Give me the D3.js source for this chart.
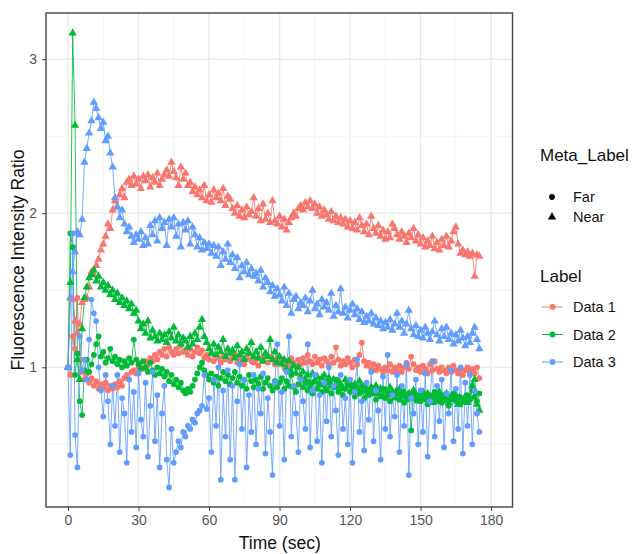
<!DOCTYPE html>
<html>
<head>
<meta charset="utf-8">
<script src="https://cdn.jsdelivr.net/npm/d3@7"></script>
<style>
  body { margin: 0; background: #fff; }
  svg { display: block; font-family: "Liberation Sans", Arial, sans-serif; }
</style>
</head>
<body>
<div id="chart"></div>
<script>
// time axis: one reading per second, 0..175
var times = d3.range(0, 176);

var labels = ["Data 1", "Data 2", "Data 3"];
var metaLabels = ["Far", "Near"];
var colors = ["#F8766D", "#00BA38", "#619CFF"];

var xTicks = [0, 30, 60, 90, 120, 150, 180];
var yTicks = [1, 2, 3];

// Data 1
var data1Far = [
  1.00, 0.95, 1.20, 1.12, 1.45, 1.05, 0.97, 0.92, 0.96, 0.90,
  0.93, 0.88, 0.91, 0.86, 0.89, 0.87, 0.90, 0.85, 0.88, 0.86,
  0.89, 0.87, 0.91, 0.88, 0.93, 0.95, 0.92, 0.97, 0.98, 0.96,
  1.00, 1.03, 0.99, 1.04, 1.02, 1.06, 1.04, 1.08, 1.05, 1.10,
  1.08, 1.12, 1.07, 1.13, 1.10, 1.08, 1.12, 1.09, 1.14, 1.10,
  1.11, 1.08, 1.12, 1.07, 1.10, 1.13, 1.09, 1.11, 1.06, 1.08,
  1.05, 1.09, 1.04, 1.08, 1.06, 1.03, 1.07, 1.05, 1.10, 1.04,
  1.06, 1.08, 1.03, 1.07, 1.05, 1.02, 1.06, 1.09, 1.04, 1.03,
  1.05, 1.01, 1.06, 1.04, 1.08, 1.03, 1.07, 1.05, 1.02, 1.06,
  1.03, 1.05, 1.00, 1.04, 1.02, 1.06, 1.03, 1.01, 1.05, 1.02,
  1.06, 1.03, 1.08, 1.04, 1.02, 1.07, 1.03, 1.05, 1.01, 1.06,
  1.04, 1.02, 1.07, 1.03, 1.13, 1.05, 1.01, 1.04, 1.02, 1.06,
  1.03, 1.00, 1.05, 1.02, 1.08, 1.16, 1.04, 1.01, 1.03, 0.99,
  1.02, 0.98, 1.01, 0.99, 0.97, 1.00, 0.98, 1.02, 0.97, 1.00,
  0.98, 1.01, 0.97, 1.00, 1.03, 0.99, 1.07, 1.02, 0.98, 1.00,
  0.97, 1.01, 0.99, 0.96, 1.02, 0.98, 1.04, 0.99, 0.97, 1.00,
  0.98, 0.96, 1.00, 0.97, 1.01, 0.98, 0.96, 0.99, 0.95, 0.98,
  1.00, 0.97, 0.99, 0.96, 1.00, 0.93
];
var data1Near = [
  1.00, 1.45, 1.44, 1.30, 1.22, 1.28, 1.42, 1.44, 1.45, 1.52,
  1.62, 1.60, 1.66, 1.70, 1.76, 1.80, 1.85, 1.93, 1.90, 2.02,
  2.08, 2.04, 2.12, 2.16, 2.10, 2.20, 2.22, 2.18, 2.24, 2.19,
  2.22, 2.16, 2.24, 2.21, 2.25, 2.17, 2.23, 2.20, 2.26, 2.18,
  2.22, 2.25, 2.28, 2.24, 2.33, 2.27, 2.23, 2.18, 2.30, 2.22,
  2.26, 2.18, 2.20, 2.14, 2.17, 2.12, 2.15, 2.10, 2.18, 2.08,
  2.12, 2.07, 2.15, 2.10, 2.13, 2.08, 2.16, 2.05, 2.11, 2.09,
  2.03, 2.00, 2.05, 1.98, 2.02, 1.97, 2.04, 1.99, 2.01, 2.10,
  1.98, 2.03, 1.95, 2.06, 1.96, 2.00, 1.94, 2.08, 1.95, 1.93,
  1.98, 1.91, 1.96, 1.89, 1.94, 1.97, 2.00, 1.98, 2.03, 2.05,
  2.02, 2.07, 2.04, 2.08, 2.03, 2.06, 2.00, 2.04, 1.98, 2.02,
  1.99, 1.96, 2.01, 1.95, 1.98, 1.94, 1.97, 1.93, 1.96, 1.91,
  1.95, 1.90, 1.94, 1.89, 1.97, 1.92, 1.88, 1.93, 1.86, 1.98,
  1.90, 1.87, 1.92, 1.85, 1.89, 1.83, 1.88, 1.84, 1.93, 1.90,
  1.86, 1.83, 1.88, 1.85, 1.81, 1.87, 1.84, 1.90, 1.82, 1.86,
  1.80, 1.84, 1.78, 1.82, 1.79, 1.85, 1.77, 1.81, 1.76, 1.83,
  1.79, 1.85, 1.78, 1.82, 1.88, 1.91, 1.80, 1.74, 1.76, 1.73,
  1.75, 1.72, 1.74, 1.59, 1.73, 1.72
];

// Data 2
var data2Far = [
  1.00, 1.87, 1.78, 0.95, 1.09, 0.78, 0.69, 0.98, 1.05, 0.97,
  1.02, 1.08, 1.15, 1.20, 1.07, 1.10, 1.03, 1.06, 1.12, 1.04,
  1.07, 1.02, 1.05, 1.00, 1.04, 1.01, 1.06, 1.03, 1.18, 1.05,
  1.02, 0.99, 1.04, 1.00, 0.97, 1.03, 0.98, 0.95, 1.00, 0.96,
  0.99, 0.94, 0.97, 0.91, 0.95, 0.89, 0.92, 0.87, 0.90, 0.85,
  0.83, 0.86, 0.84, 0.88, 0.92, 0.96, 1.00, 1.03, 0.98, 0.95,
  0.92, 0.96, 0.90, 0.94, 0.88, 0.93, 0.97, 0.91, 0.95, 0.89,
  0.93, 0.97, 0.90, 0.94, 0.88, 0.92, 0.86, 0.95, 0.91, 0.87,
  0.92, 0.89, 0.94, 0.86, 0.90, 0.93, 0.88, 0.85, 0.91, 0.87,
  0.90, 0.93, 0.86, 0.91, 0.88, 0.95, 0.87, 0.84, 0.89, 0.92,
  0.87, 0.90, 0.85, 0.88, 0.83, 0.91, 0.86, 0.89, 0.84, 0.88,
  0.85, 0.90, 0.83, 0.87, 0.92, 0.84, 0.88, 0.82, 0.86, 0.89,
  0.84, 0.87, 0.81, 0.86, 0.83, 0.88, 0.80, 0.85, 0.82, 0.87,
  0.83, 0.79, 0.85, 0.81, 0.86, 0.80, 0.84, 0.78, 0.83, 0.81,
  0.85, 0.79, 0.83, 0.77, 0.82, 0.80, 0.59, 0.84, 0.79, 0.82,
  0.78, 0.83, 0.80, 0.76, 0.82, 0.79, 0.84, 0.78, 0.81, 0.77,
  0.82, 0.79, 0.75, 0.80, 0.83, 0.78, 0.81, 0.76, 0.80, 0.78,
  0.82, 0.79, 0.85, 0.81, 0.78, 0.83
];
var data2Near = [
  1.00, 1.55, 3.17, 2.57, 1.05, 0.92, 1.25, 1.45, 1.52, 1.58,
  1.60, 1.63, 1.56, 1.59, 1.52, 1.55, 1.50, 1.53, 1.47, 1.50,
  1.44, 1.48, 1.42, 1.45, 1.40, 1.43, 1.38, 1.41, 1.35, 1.37,
  1.30, 1.25, 1.28, 1.22, 1.30, 1.19, 1.24, 1.20, 1.17, 1.22,
  1.18, 1.21, 1.16, 1.23, 1.19, 1.26, 1.17, 1.21, 1.15, 1.19,
  1.17, 1.13, 1.20, 1.15, 1.22, 1.18, 1.26, 1.31, 1.20, 1.16,
  1.12, 1.09, 1.15, 1.08, 1.13, 1.10, 1.18, 1.07, 1.12, 1.09,
  1.11, 1.06, 1.14, 1.08, 1.10, 1.05, 1.12, 1.09, 1.16, 1.07,
  1.10, 1.06, 1.13, 1.04, 1.09, 1.07, 1.18, 1.05, 1.10, 1.03,
  1.07, 1.02, 1.05, 0.99, 1.04, 0.97, 1.01, 0.96, 1.00, 0.94,
  0.97, 0.92, 0.95, 0.90, 0.96, 0.91, 0.94, 0.89, 0.93, 0.95,
  0.90, 0.93, 0.88, 0.92, 0.87, 0.91, 0.89, 0.86, 0.92, 0.88,
  0.90, 0.85, 0.89, 0.86, 0.91, 0.84, 0.88, 0.86, 0.83, 0.87,
  0.85, 0.88, 0.83, 0.86, 0.81, 0.85, 0.82, 0.87, 0.84, 0.80,
  0.83, 0.86, 0.81, 0.84, 0.79, 0.83, 0.80, 0.85, 0.82, 0.78,
  0.81, 0.84, 0.79, 0.83, 0.80, 0.77, 0.82, 0.79, 0.84, 0.78,
  0.80, 0.83, 0.77, 0.81, 0.79, 0.82, 0.76, 0.80, 0.78, 0.81,
  0.77, 0.80, 0.88, 0.92, 0.76, 0.72
];

// Data 3
var data3Far = [
  1.00, 0.43, 1.87, 0.56, 0.35, 1.20, 0.98, 1.05, 0.92, 1.18,
  1.44, 1.35, 1.30, 1.00, 0.85, 0.68, 0.95, 0.78, 0.50, 0.88,
  0.62, 0.95, 0.45, 0.80, 0.70, 0.38, 0.92, 0.58, 0.84, 0.48,
  0.96, 0.66, 0.55, 0.90, 0.42, 0.75, 0.97, 0.52, 0.82, 0.35,
  0.70, 0.88, 0.40, 0.22, 0.60, 0.38, 0.45, 0.52, 0.48, 0.58,
  0.55, 0.62, 0.60, 0.66, 0.64, 0.70, 0.72, 0.75, 0.95, 0.73,
  0.80, 0.45, 0.92, 0.62, 1.00, 0.27, 0.85, 0.55, 0.98, 0.40,
  0.88, 0.27, 0.78, 1.02, 0.60, 0.92, 0.35, 0.82, 0.58, 0.95,
  0.50, 0.86, 0.70, 0.96, 0.44, 0.80, 0.58, 0.30, 0.90, 1.15,
  0.62, 0.84, 0.40, 0.97, 1.20, 0.55, 0.88, 0.70, 0.45, 0.92,
  0.78, 0.60, 1.15, 0.48, 0.85, 0.95, 0.52, 0.82, 0.38, 0.90,
  0.65, 1.00, 0.55, 0.88, 0.72, 0.43, 0.95, 0.60, 0.80, 0.50,
  0.92, 0.38, 0.84, 1.05, 0.58, 0.78, 0.46, 0.90, 0.66, 0.97,
  0.52, 0.85, 0.72, 0.40, 0.94, 0.60, 1.08, 0.55, 0.82, 0.68,
  0.95, 0.45, 0.88, 0.62, 1.02, 0.30, 0.80, 0.70, 0.92, 0.50,
  0.85, 0.58, 0.96, 0.42, 0.78, 1.04, 0.55, 0.88, 0.65, 0.92,
  0.48, 0.83, 0.70, 0.98, 0.52, 0.86, 0.60, 1.00, 0.44, 0.90,
  0.62, 0.95, 0.50, 0.85, 0.70, 0.58
];
var data3Near = [
  1.00, 1.45, 1.62, 1.75, 1.88, 1.86, 1.96, 2.33, 2.42, 2.52,
  2.60, 2.72, 2.68, 2.62, 2.55, 2.59, 2.47, 2.50, 2.39, 2.30,
  2.10, 2.04, 1.97, 2.02, 1.93, 1.88, 1.91, 1.85, 1.81, 1.86,
  1.83, 1.88, 1.79, 1.84, 1.80, 1.92, 1.86, 1.95, 1.82, 1.97,
  1.90, 1.94, 1.79, 1.96, 1.91, 1.97, 1.85, 1.93, 1.78, 1.94,
  1.89, 1.95, 1.80, 1.91, 1.86, 1.78, 1.84, 1.76, 1.81, 1.77,
  1.80, 1.74, 1.79, 1.72, 1.78, 1.66, 1.75, 1.70, 1.80, 1.68,
  1.73, 1.64, 1.71, 1.58, 1.66, 1.62, 1.68, 1.60, 1.64, 1.59,
  1.61, 1.56, 1.63, 1.52, 1.58, 1.55, 1.49, 1.53, 1.46, 1.51,
  1.47, 1.43, 1.52, 1.40, 1.48, 1.35, 1.44, 1.46, 1.38, 1.42,
  1.40, 1.45, 1.36, 1.43, 1.50, 1.38, 1.41, 1.34, 1.44, 1.39,
  1.42, 1.37, 1.48, 1.33, 1.40, 1.36, 1.51, 1.35, 1.39, 1.32,
  1.37, 1.41, 1.34, 1.38, 1.31, 1.36, 1.29, 1.33, 1.30, 1.35,
  1.28, 1.32, 1.27, 1.30, 1.25, 1.29, 1.26, 1.31, 1.24, 1.28,
  1.35, 1.26, 1.30, 1.22, 1.28, 1.37, 1.25, 1.21, 1.27, 1.20,
  1.24, 1.19, 1.26, 1.22, 1.18, 1.23, 1.30, 1.21, 1.17, 1.25,
  1.20, 1.26, 1.18, 1.22, 1.15, 1.21, 1.17, 1.24, 1.19, 1.14,
  1.20, 1.16, 1.22, 1.26, 1.18, 1.12
];

// one entry per (Label, Meta_Label) group, in ggplot drawing order
var groups = [
  {label: 0, meta: 0, values: data1Far},
  {label: 0, meta: 1, values: data1Near},
  {label: 1, meta: 0, values: data2Far},
  {label: 1, meta: 1, values: data2Near},
  {label: 2, meta: 0, values: data3Far},
  {label: 2, meta: 1, values: data3Near}
];

var W = 632, H = 554;
var panel = {left: 46, right: 512.5, top: 13, bottom: 507};

var svg = d3.select("#chart").append("svg")
  .attr("width", W)
  .attr("height", H);

var x = d3.scaleLinear().domain([-9.36, 189.1]).range([panel.left, panel.right]);
var y = d3.scaleLinear().domain([0.093, 3.30]).range([panel.bottom, panel.top]);

//*** grid ***//
var grid = svg.append("g");
var xMinor = [15, 45, 75, 105, 135, 165];
var yMinor = [0.5, 1.5, 2.5];

grid.selectAll("line.xminor").data(xMinor).enter().append("line")
  .attr("x1", function(d) { return x(d); }).attr("x2", function(d) { return x(d); })
  .attr("y1", panel.top).attr("y2", panel.bottom)
  .attr("stroke", "#f2f2f2").attr("stroke-width", 0.8);
grid.selectAll("line.yminor").data(yMinor).enter().append("line")
  .attr("y1", function(d) { return y(d); }).attr("y2", function(d) { return y(d); })
  .attr("x1", panel.left).attr("x2", panel.right)
  .attr("stroke", "#f2f2f2").attr("stroke-width", 0.8);
grid.selectAll("line.xmajor").data(xTicks).enter().append("line")
  .attr("x1", function(d) { return x(d); }).attr("x2", function(d) { return x(d); })
  .attr("y1", panel.top).attr("y2", panel.bottom)
  .attr("stroke", "#ebebeb").attr("stroke-width", 1.5);
grid.selectAll("line.ymajor").data(yTicks).enter().append("line")
  .attr("y1", function(d) { return y(d); }).attr("y2", function(d) { return y(d); })
  .attr("x1", panel.left).attr("x2", panel.right)
  .attr("stroke", "#ebebeb").attr("stroke-width", 1.5);

//*** lines ***//
var line = d3.line()
  .x(function(d, i) { return x(times[i]); })
  .y(function(d) { return y(d); });

svg.append("g").selectAll("path").data(groups).enter().append("path")
  .attr("d", function(g) { return line(g.values); })
  .attr("fill", "none")
  .attr("stroke", function(g) { return colors[g.label]; })
  .attr("stroke-width", 1)
  .attr("stroke-opacity", 0.85);

//*** points ***//
var circleSym = d3.symbol().type(d3.symbolCircle).size(26);
var triSym = d3.symbol().type(d3.symbolTriangle).size(30);

groups.forEach(function(g) {
  svg.append("g").selectAll("path").data(g.values).enter().append("path")
    .attr("transform", function(d, i) {
      return "translate(" + x(times[i]) + "," + y(d) + ")";
    })
    .attr("d", g.meta === 0 ? circleSym() : triSym())
    .attr("fill", colors[g.label]);
});

//*** panel border and axes ***//
svg.append("rect")
  .attr("x", panel.left).attr("y", panel.top)
  .attr("width", panel.right - panel.left).attr("height", panel.bottom - panel.top)
  .attr("fill", "none").attr("stroke", "#444").attr("stroke-width", 1.4);

var xAxis = svg.append("g")
  .attr("transform", "translate(0," + panel.bottom + ")")
  .call(d3.axisBottom(x).tickValues(xTicks).tickFormat(d3.format("d")).tickSize(4).tickPadding(4));
var yAxis = svg.append("g")
  .attr("transform", "translate(" + panel.left + ",0)")
  .call(d3.axisLeft(y).tickValues(yTicks).tickFormat(d3.format("d")).tickSize(4).tickPadding(5));

[xAxis, yAxis].forEach(function(a) {
  a.select(".domain").remove();
  a.selectAll(".tick line").attr("stroke", "#444");
  a.selectAll(".tick text")
    .attr("fill", "#555")
    .style("font-size", "14px")
    .style("font-family", "'Liberation Sans', Arial, sans-serif");
});

svg.append("text")
  .attr("x", (panel.left + panel.right) / 2 + 0.5)
  .attr("y", 549)
  .attr("text-anchor", "middle")
  .style("font-size", "17.5px")
  .attr("fill", "#111")
  .text("Time (sec)");

svg.append("text")
  .attr("transform", "translate(24," + ((panel.top + panel.bottom) / 2) + ") rotate(-90)")
  .attr("text-anchor", "middle")
  .style("font-size", "17.5px")
  .attr("fill", "#111")
  .text("Fluorescence Intensity Ratio");

//*** legends ***//
var leg = svg.append("g");
leg.append("text").attr("x", 540).attr("y", 161)
  .style("font-size", "17px").attr("fill", "#111").text("Meta_Label");

metaLabels.forEach(function(m, i) {
  var cy = 197 + i * 20;
  leg.append("path")
    .attr("transform", "translate(552," + cy + ")")
    .attr("d", i === 0 ? circleSym() : triSym())
    .attr("fill", "#000");
  leg.append("text").attr("x", 573).attr("y", cy + 5)
    .style("font-size", "14.5px").attr("fill", "#111").text(m);
});

leg.append("text").attr("x", 540).attr("y", 282)
  .style("font-size", "17px").attr("fill", "#111").text("Label");

labels.forEach(function(l, i) {
  var cy = 307 + i * 27.5;
  leg.append("line")
    .attr("x1", 542).attr("x2", 563).attr("y1", cy).attr("y2", cy)
    .attr("stroke", colors[i]).attr("stroke-width", 1);
  leg.append("path")
    .attr("transform", "translate(552.5," + cy + ")")
    .attr("d", circleSym())
    .attr("fill", colors[i]);
  leg.append("text").attr("x", 573).attr("y", cy + 5)
    .style("font-size", "14.5px").attr("fill", "#111").text(l);
});
</script>
</body>
</html>
